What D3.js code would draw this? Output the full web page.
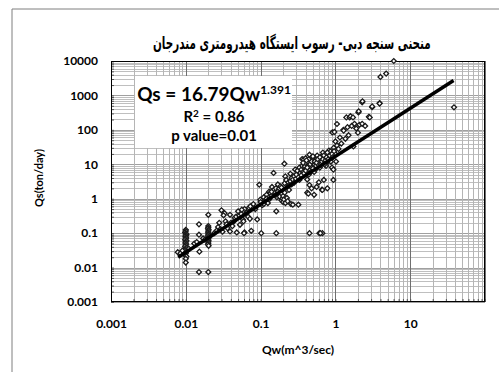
<!DOCTYPE html>
<html>
<head>
<meta charset="utf-8">
<script src="https://cdn.jsdelivr.net/npm/d3@7"></script>
<style>
  body { margin: 0; background: #fff; }
  svg { display: block; font-family: Lato, "Open Sans", sans-serif; font-weight: bold; }
</style>
</head>
<body>
<svg id="chart" width="499" height="372"></svg>
<script>
// Chart texts
const TITLE = 'منحنی سنجه دبی- رسوب ایستگاه  هیدرومتری مندرجان';
const X_TITLE = 'Qw(m^3/sec)';
const Y_TITLE = 'Qs(ton/day)';

// Tick labels (decades)
const xTicks = [0.001, 0.01, 0.1, 1, 10];
const yTicks = [0.001, 0.01, 0.1, 1, 10, 100, 1000, 10000];

// Power trend line (start / end)
const trendLine = [[0.0079, 0.02], [38, 2700]];

// Observed samples [Qw, Qs]
const samplesLow = [
  [0.01, 0.125], [0.01, 0.115], [0.0098, 0.105], [0.01, 0.098], [0.0102, 0.092],
  [0.01, 0.086], [0.0099, 0.08], [0.0101, 0.074], [0.01, 0.069], [0.0098, 0.064],
  [0.0102, 0.06], [0.01, 0.056], [0.0099, 0.052], [0.0101, 0.048], [0.01, 0.045],
  [0.0098, 0.041], [0.0102, 0.038], [0.01, 0.035], [0.0099, 0.032], [0.0101, 0.029],
  [0.01, 0.026], [0.0098, 0.023], [0.0102, 0.021], [0.01, 0.018], [0.01, 0.014],
  [0.0078, 0.028], [0.0085, 0.026], [0.009, 0.031],
  [0.02, 0.16], [0.02, 0.145], [0.0198, 0.135], [0.0202, 0.125], [0.02, 0.115],
  [0.0199, 0.106], [0.0201, 0.098], [0.02, 0.09], [0.0198, 0.083], [0.0202, 0.077],
  [0.02, 0.071], [0.0199, 0.066], [0.0201, 0.061], [0.02, 0.056], [0.02, 0.051],
  [0.0198, 0.047], [0.0202, 0.043], [0.02, 0.34],
  [0.015, 0.18], [0.015, 0.09], [0.0152, 0.029], [0.015, 0.0074], [0.02, 0.0074],
  [0.011, 0.035], [0.013, 0.05], [0.014, 0.055], [0.017, 0.07], [0.018, 0.065]
];

const samplesMid = [
  [0.028, 0.2], [0.030, 0.46], [0.033, 0.38], [0.032, 0.33], [0.034, 0.22],
  [0.039, 0.34], [0.044, 0.22], [0.050, 0.43], [0.061, 0.50], [0.058, 0.25],
  [0.053, 0.175], [0.061, 0.105], [0.075, 0.117], [0.039, 0.112], [0.048, 0.105],
  [0.031, 0.11], [0.036, 0.14], [0.026, 0.12], [0.024, 0.1], [0.027, 0.15],
  [0.029, 0.13], [0.035, 0.18], [0.04, 0.2], [0.042, 0.16], [0.045, 0.28],
  [0.047, 0.3], [0.052, 0.32], [0.055, 0.36], [0.056, 0.48], [0.059, 0.22],
  [0.065, 0.4], [0.068, 0.3], [0.07, 0.55], [0.072, 0.26], [0.06, 0.1],
  [0.102, 0.1], [0.162, 0.1], [0.45, 0.1], [0.61, 0.1], [0.67, 0.1], [0.63, 0.1],
  [0.073, 0.6], [0.08, 0.7], [0.085, 0.5], [0.09, 0.25], [0.096, 2.55],
  [0.099, 0.94], [0.1, 0.8], [0.105, 0.65], [0.11, 1.1], [0.115, 0.9],
  [0.12, 1.3], [0.125, 0.75], [0.13, 1.6], [0.135, 1.46], [0.14, 1.2],
  [0.142, 2.2], [0.149, 5.6], [0.15, 1.8], [0.155, 1.5], [0.16, 2.0],
  [0.162, 0.43], [0.165, 1.1], [0.17, 2.6], [0.175, 1.9], [0.18, 1.15],
  [0.184, 2.3], [0.19, 0.9], [0.195, 1.0], [0.2, 0.8], [0.2, 1.2],
  [0.205, 0.95], [0.208, 10.4], [0.21, 2.8], [0.214, 4.45], [0.215, 0.75],
  [0.22, 3.5], [0.225, 1.05], [0.23, 0.85], [0.235, 3.0], [0.24, 2.5],
  [0.25, 3.2], [0.25, 5.3], [0.255, 0.7], [0.26, 4.0], [0.27, 0.67],
  [0.27, 3.6], [0.28, 4.5], [0.29, 7.0], [0.295, 3.8], [0.3, 5.0], [0.32, 0.67],
  [0.11, 0.7], [0.12, 1.0], [0.13, 0.95], [0.14, 1.6], [0.16, 1.3], [0.17, 1.6],
  [0.19, 2.1], [0.21, 1.5], [0.23, 2.2], [0.24, 1.8], [0.26, 2.6], [0.28, 2.9]
];

const samplesHigh = [
  [0.31, 6.5], [0.32, 4.2], [0.33, 8], [0.34, 5.6], [0.35, 7], [0.36, 14.2],
  [0.36, 9], [0.37, 6], [0.376, 13.6], [0.38, 10], [0.39, 8.5], [0.4, 15],
  [0.4, 11], [0.41, 7.5], [0.42, 3.6], [0.42, 1.5], [0.43, 12], [0.435, 1.4],
  [0.44, 9], [0.45, 19], [0.45, 2.5], [0.46, 8.7], [0.47, 6], [0.48, 2.0],
  [0.49, 16], [0.5, 11], [0.5, 13], [0.52, 1.3], [0.52, 9.5], [0.54, 7],
  [0.55, 14], [0.56, 2.2], [0.57, 18], [0.58, 10], [0.6, 12], [0.6, 3],
  [0.62, 8], [0.63, 13.6], [0.65, 17], [0.66, 1.83], [0.67, 1.8], [0.68, 22],
  [0.7, 11], [0.7, 3.5], [0.72, 15], [0.75, 20], [0.75, 9], [0.78, 2.0],
  [0.8, 17], [0.8, 12], [0.82, 25], [0.85, 14], [0.86, 23.7], [0.88, 19],
  [0.9, 8], [0.91, 84], [0.94, 7], [0.94, 3.5], [0.95, 30], [0.97, 87],
  [1.0, 46], [1.0, 20], [1.02, 12],
  [0.33, 3.5], [0.35, 4.8], [0.38, 5.5], [0.4, 6.5], [0.42, 8], [0.44, 5],
  [0.46, 10], [0.48, 12], [0.5, 7.5], [0.52, 6], [0.53, 12], [0.55, 9],
  [0.56, 11], [0.58, 14], [0.6, 9.5], [0.62, 16], [0.64, 10], [0.66, 12],
  [0.68, 14], [0.7, 18], [0.72, 10], [0.74, 13], [0.76, 16], [0.78, 22],
  [0.8, 14], [0.84, 18], [0.87, 12], [0.9, 20], [0.92, 16], [0.96, 24],
  [0.44, 14], [0.5, 17], [0.37, 11], [0.41, 13],
  [1.05, 148], [1.05, 35], [1.1, 28], [1.15, 60], [1.2, 40], [1.28, 100],
  [1.29, 95], [1.36, 55], [1.4, 230], [1.45, 120], [1.5, 70], [1.55, 230],
  [1.59, 250], [1.65, 130], [1.72, 230], [1.74, 33], [1.8, 150], [1.9, 110],
  [2.0, 83], [2.03, 320], [2.05, 345], [2.1, 140], [2.28, 630], [2.28, 150],
  [2.3, 675], [2.5, 130], [2.8, 240], [2.88, 230], [3.1, 455], [3.1, 480],
  [3.9, 600], [3.9, 580], [4.0, 3450], [4.77, 4300], [6.03, 10000], [38.5, 450]
];

// Layout
const LEFT = 111;
const RIGHT = 485;
const TOP = 61;
const BOTTOM = 302;

const svg = d3.select('#chart');

// Outer chart border (left + top visible)
svg.append('path')
  .attr('d', 'M12,372V9H499')
  .attr('fill', 'none')
  .attr('stroke', '#7f7f7f');

// Scales
const x = d3.scaleLog().domain([0.001, 100]).range([LEFT, RIGHT]);
const y = d3.scaleLog().domain([0.001, 10000]).range([BOTTOM, TOP]);

const isDecade = (v) => Math.abs(Math.log10(v) - Math.round(Math.log10(v))) < 1e-6;

// Gridlines
const grid = svg.append('g').attr('class', 'grid');

grid.selectAll('line.h')
  .data(y.ticks())
  .enter()
  .append('line')
  .attr('x1', LEFT)
  .attr('x2', RIGHT)
  .attr('y1', (d) => Math.round(y(d)) + 0.5)
  .attr('y2', (d) => Math.round(y(d)) + 0.5)
  .attr('stroke', (d) => (isDecade(d) ? '#a0a0a0' : '#bfbfbf'));

grid.selectAll('line.v')
  .data(x.ticks())
  .enter()
  .append('line')
  .attr('y1', TOP)
  .attr('y2', BOTTOM)
  .attr('x1', (d) => Math.round(x(d)) + 0.5)
  .attr('x2', (d) => Math.round(x(d)) + 0.5)
  .attr('stroke', (d) => (isDecade(d) ? '#6f6f6f' : '#b5b5b5'));

// Equation box
svg.append('rect')
  .attr('x', 135)
  .attr('y', 76)
  .attr('width', 157)
  .attr('height', 72)
  .attr('fill', '#fff');

// Axes: small inward ticks
svg.append('g')
  .attr('transform', `translate(0,${BOTTOM})`)
  .call(d3.axisBottom(x).tickValues(x.ticks()).tickSize(-3).tickFormat(''))
  .call((g) => g.select('.domain').remove())
  .selectAll('line').attr('stroke', '#555');

svg.append('g')
  .attr('transform', `translate(${LEFT},0)`)
  .call(d3.axisLeft(y).tickValues(y.ticks()).tickSize(-3).tickFormat(''))
  .call((g) => g.select('.domain').remove())
  .selectAll('line').attr('stroke', '#555');

// Tick labels
svg.append('g')
  .attr('transform', `translate(0,${BOTTOM})`)
  .call(d3.axisBottom(x).tickValues(xTicks).tickSize(0).tickPadding(17).tickFormat(String))
  .call((g) => g.select('.domain').remove())
  .selectAll('text')
  .attr('font-family', 'Lato, sans-serif')
  .attr('font-weight', 'bold')
  .attr('font-size', 12)
  .attr('fill', '#000');

svg.append('g')
  .attr('transform', `translate(${LEFT},0)`)
  .call(d3.axisLeft(y).tickValues(yTicks).tickSize(0).tickPadding(13).tickFormat(String))
  .call((g) => g.select('.domain').remove())
  .selectAll('text')
  .attr('font-family', 'Lato, sans-serif')
  .attr('font-weight', 'bold')
  .attr('font-size', 12)
  .attr('fill', '#000');

// Plot frame
svg.append('rect')
  .attr('x', LEFT + 0.5)
  .attr('y', TOP + 0.5)
  .attr('width', RIGHT - LEFT - 1)
  .attr('height', BOTTOM - TOP - 1)
  .attr('fill', 'none')
  .attr('stroke', '#000');

// Scatter points (open diamonds)
const samples = [...samplesLow, ...samplesMid, ...samplesHigh];
const marker = d3.symbol().type(d3.symbolSquare).size(12);

svg.append('g')
  .selectAll('path')
  .data(samples)
  .enter()
  .append('path')
  .attr('d', marker)
  .attr('transform', (d) => `translate(${x(d[0])},${y(d[1])}) rotate(45)`)
  .attr('fill', '#fff')
  .attr('stroke', '#1a1a1a')
  .attr('stroke-width', 1.3);

// Trend line
svg.append('path')
  .datum(trendLine)
  .attr('d', d3.line().x((d) => x(d[0])).y((d) => y(d[1])))
  .attr('fill', 'none')
  .attr('stroke', '#000')
  .attr('stroke-width', 3.5);

// Equation text
const eq = svg.append('g').attr('text-anchor', 'middle').attr('fill', '#000');

const line1 = eq.append('text')
  .attr('x', 214)
  .attr('y', 101)
  .attr('font-size', 19);
line1.append('tspan').text('Qs = 16.79Qw');
line1.append('tspan').attr('font-size', 12).attr('dy', -7).text('1.391');

const line2 = eq.append('text')
  .attr('x', 214)
  .attr('y', 122)
  .attr('font-size', 15);
line2.append('tspan').text('R');
line2.append('tspan').attr('font-size', 10).attr('dy', -5).text('2');
line2.append('tspan').attr('dy', 5).text(' = 0.86');

eq.append('text')
  .attr('x', 214)
  .attr('y', 141)
  .attr('font-size', 15)
  .text('p value=0.01');

// Title: bigger glyphs, squeezed horizontally to the reference width
const title = svg.append('text')
  .attr('x', 0)
  .attr('y', 49)
  .attr('font-family', '"DejaVu Sans", sans-serif')
  .attr('font-size', 17)
  .text(TITLE);
const tb = title.node().getBBox();
const sx = 278 / tb.width;
title.attr('transform', `translate(${292 - sx * (tb.x + tb.width / 2)},0) scale(${sx},1)`);

// Axis titles
svg.append('text')
  .attr('x', 298)
  .attr('y', 354)
  .attr('text-anchor', 'middle')
  .attr('font-size', 12)
  .text(X_TITLE);

svg.append('text')
  .attr('transform', 'translate(43,178) rotate(-90)')
  .attr('text-anchor', 'middle')
  .attr('font-size', 11)
  .text(Y_TITLE);
</script>
</body>
</html>
